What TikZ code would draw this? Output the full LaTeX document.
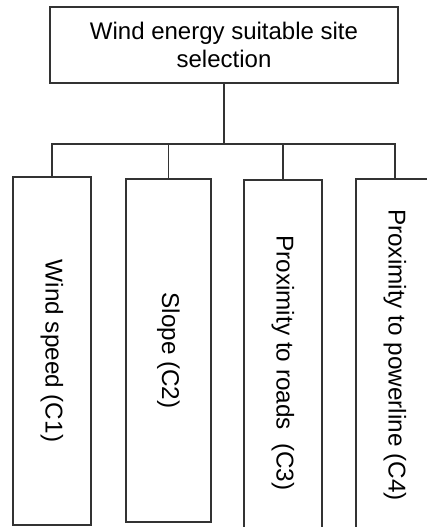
\documentclass[tikz,border=0pt]{standalone}
\usepackage{fontspec}
\setmainfont{Liberation Sans}
\usepackage{graphicx}
\usepackage{tikz}
\usetikzlibrary{
	positioning,
	calc
}

\begin{document}
\begin{tikzpicture}[
				x=1pt, y=-1pt,
				box/.style={
					rectangle, draw=black!80, line width=1.2pt,
					inner sep=0pt, align=center
				},
				goalbox/.style={
					box, minimum width=348pt, minimum height=76pt,
					font=\fontsize{24}{28}\selectfont
				},
				critbox/.style={
					box, minimum width=78pt,
					font=\fontsize{24.3}{28}\selectfont
				},
				link/.style={draw=black!80, line width=1.2pt}
				]
				\useasboundingbox (0,0) rectangle (427,527);
				
				% goal
				\node[goalbox] (goal) at (224,45) {Wind energy suitable site\\selection};
				
				% wind speed
				\node[critbox, minimum height=348pt] (wind) at (52,351) {\rotatebox{-90}{Wind speed (C1)}};
				
				% slope
				\node[critbox, minimum width=85pt, minimum height=343pt] (slope) at (168.5,350.5) {\rotatebox{-90}{Slope (C2)}};
				
				% roads
				\node[critbox, minimum height=366pt] (roads) at (283,363) {\rotatebox{-90}{Proximity to roads~~(C3)}};
				
				% powerline
				\node[critbox, minimum height=352pt] (pline) at (395,355) {\rotatebox{-90}{Proximity to powerline (C4)}};
				
				% branch point
				\coordinate (bar) at (224,144);
				
				% tree lines
				\draw[link] (goal.south) -- (bar);
				\draw[link] (wind.north) |- (bar) -| (pline.north);
				\draw[link] (slope.north) -- (slope.north |- bar);
				\draw[link] (roads.north) -- (roads.north |- bar);
			\end{tikzpicture}
\end{document}
